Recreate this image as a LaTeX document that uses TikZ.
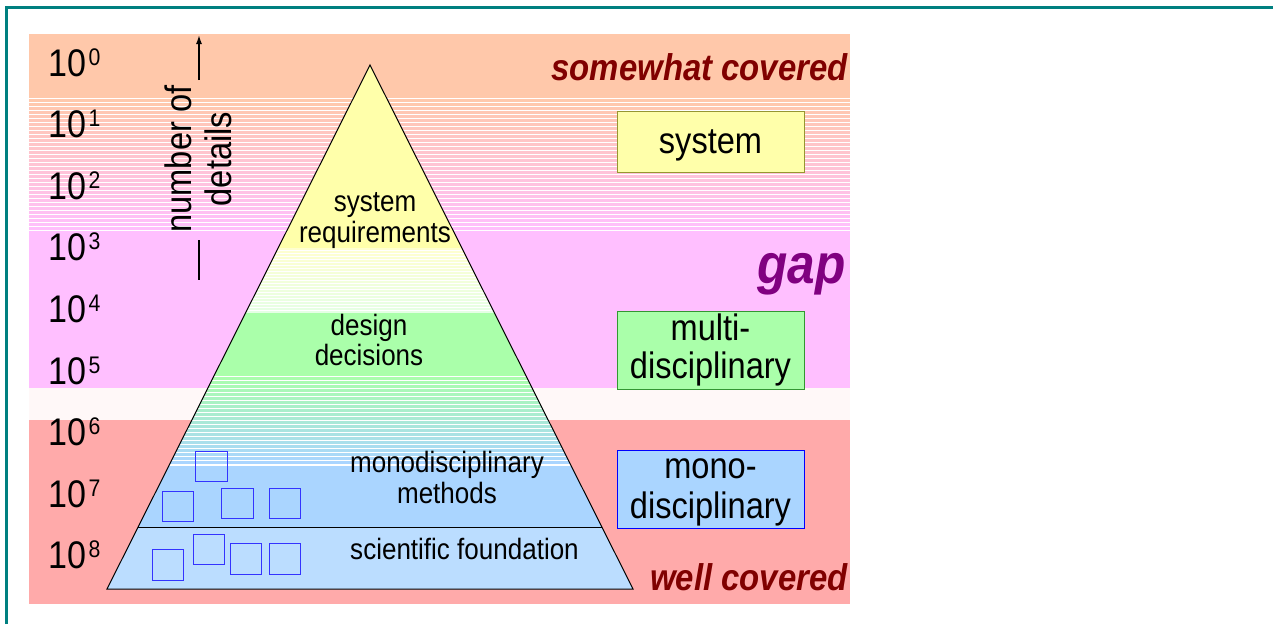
\documentclass[tikz,border=0pt]{standalone}
\usepackage{fontspec}
\setmainfont{Liberation Sans}[FakeStretch=0.885]
\usetikzlibrary{arrows.meta}
\definecolor{bgsalmon}{RGB}{255,200,170}
\definecolor{bgpink}{RGB}{255,191,255}
\definecolor{bgwhite}{RGB}{255,248,248}
\definecolor{bgred}{RGB}{255,170,170}
\definecolor{pyY}{RGB}{255,255,170}
\definecolor{pyG}{RGB}{170,255,170}
\definecolor{pyB}{RGB}{170,213,255}
\definecolor{pyLB}{RGB}{187,221,255}
\definecolor{sqblue}{RGB}{51,51,255}
\definecolor{darkred}{RGB}{128,0,0}
\definecolor{gappurple}{RGB}{128,0,128}
\definecolor{frameteal}{RGB}{0,128,128}
\definecolor{olivebox}{RGB}{150,150,50}
\definecolor{greenbox}{RGB}{50,150,50}
\newcommand{\myfs}[2]{\fontsize{#1}{#2}\selectfont}
\begin{document}
\begin{tikzpicture}[x=1pt,y=-1pt,
  ptext/.style={inner sep=0pt, anchor=base, font=\myfs{29.4}{31}},
  btext/.style={inner sep=0pt, anchor=base, font=\myfs{36.8}{39}},
  rbox/.style={minimum width=187pt, inner sep=0pt, line width=1pt},
  sq/.style={draw=sqblue, line width=1pt},
  cov/.style={inner sep=0pt, anchor=base east, font=\bfseries\itshape\myfs{37.2}{40}, text=darkred},
  expo/.style={inner sep=0pt, anchor=base west, font=\myfs{38.5}{40}}
]
\useasboundingbox (0,0) rectangle (1273,624);
\fill[white] (0,0) rectangle (1273,624);
% frame
\draw[frameteal, line width=3pt] (6.5,624) -- (6.5,7.5) -- (1273,7.5);
% background bands
\fill[bgsalmon] (29,34) rectangle (850,95);
\foreach \y in {95,99,...,231} {
  \pgfmathtruncatemacro\p{100*(\y-95)/136}
  \fill[bgpink!\p!bgsalmon] (29,\y) rectangle (850,\y+3);
}
\fill[bgpink] (29,234) rectangle (850,388);
\fill[bgwhite] (29,388) rectangle (850,420);
\fill[bgred] (29,420) rectangle (850,604);
% pyramid
\coordinate (apex) at (370,65);
\coordinate (bl) at (107,589);
\coordinate (br) at (633,589);
\coordinate (ml) at (138,527);
\coordinate (mr) at (602,527);
\begin{scope}
  \clip (apex) -- (bl) -- (br) -- cycle;
  \fill[white] (100,60) rectangle (640,590);
  \fill[pyY] (100,60) rectangle (640,248);
  \foreach \y in {248,251,...,311} {
    \pgfmathtruncatemacro\p{100*(\y-248)/63}
    \fill[pyG!55!white!\p!pyY!55!white] (100,\y) rectangle (640,\y+2);
  }
  \fill[pyG] (100,313) rectangle (640,373);
  \foreach \y in {373,377,...,461} {
    \pgfmathtruncatemacro\p{100*(\y-373)/88}
    \fill[pyB!\p!pyG] (100,\y) rectangle (640,\y+3);
  }
  \fill[pyB] (100,466) rectangle (640,527);
  \fill[pyLB] (100,527) rectangle (640,590);
\end{scope}
\draw[black, line width=1pt] (apex) -- (bl) -- (br) -- cycle;
\draw[black, line width=1pt] (ml) -- (mr);
% small squares
\draw[sq] (195,451) rectangle (227,481);
\draw[sq] (162,491) rectangle (193,521);
\draw[sq] (221,488) rectangle (253,518);
\draw[sq] (269,488) rectangle (300,518);
\draw[sq] (152,549) rectangle (183,580);
\draw[sq] (193,534) rectangle (224,564);
\draw[sq] (230,543) rectangle (261,574);
\draw[sq] (269,543) rectangle (300,574);
% pyramid texts
\node[ptext] (t1a) at (375,211) {system};
\node[ptext] (t1b) at (375,242) {requirements};
\node[ptext] (t2a) at (369,335) {design};
\node[ptext] (t2b) at (369,365) {decisions};
\node[ptext] (t3a) at (447,472) {monodisciplinary};
\node[ptext] (t3b) at (447,503) {methods};
\node[ptext] (t4) at (464.5,559) {scientific foundation};
% exponent labels
\foreach \k in {0,...,8} {
  \node[expo] (e\k) at (48.5,{76+61.6*\k}) {10\hspace{2pt}\raisebox{11pt}{\myfs{24}{24}\k}};
}
% number of details
\node[inner sep=0pt, rotate=90, align=center, font=\myfs{36.9}{40}] (nod) at (198,159) {number of\\details};
\coordinate (arrtop) at (199,35);
\coordinate (arrbot) at (199,80);
\coordinate (lntop) at (199,240);
\coordinate (lnbot) at (199,280);
\draw[line width=1.5pt, -{Latex[length=9pt,width=6pt]}] (arrbot) -- (arrtop);
\draw[line width=1.5pt] (lntop) -- (lnbot);
% right boxes
\node[rbox, draw=olivebox, fill=pyY, minimum height=61pt] (sysbox) at (710.5,141.5) {};
\node[btext] (systxt) at (710.5,153) {system};
\node[rbox, draw=greenbox, fill=pyG, minimum height=78pt] (multibox) at (710.5,350) {};
\node[btext] (multia) at (710.5,340) {multi-};
\node[btext] (multib) at (710.5,378) {disciplinary};
\node[rbox, draw=blue, fill=pyB, minimum height=78pt] (monobox) at (710.5,489) {};
\node[btext] (monoa) at (710.5,478) {mono-};
\node[btext] (monob) at (710.5,518) {disciplinary};
% coverage labels
\node[cov] (somewhat) at (848,80) {somewhat covered};
\node[cov, text=gappurple, font=\bfseries\itshape\myfs{56}{60}] (gap) at (846,283) {gap};
\node[cov] (well) at (848,590) {well covered};
\end{tikzpicture}
\end{document}
